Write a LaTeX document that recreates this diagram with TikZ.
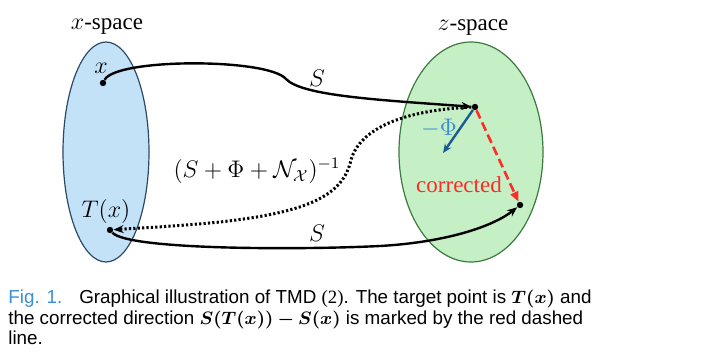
\documentclass[tikz,border=0pt]{standalone}
\usepackage{fontspec}
\usepackage{bm}
\setmainfont{Liberation Serif}
\newfontfamily\capfont{Liberation Sans}
\usetikzlibrary{arrows.meta}
\definecolor{xfill}{HTML}{C3E2F7}
\definecolor{xline}{HTML}{2B4A66}
\definecolor{zfill}{HTML}{C5EFC5}
\definecolor{zline}{HTML}{3D7A3D}
\definecolor{phiarrow}{HTML}{1F5B93}
\definecolor{philabel}{HTML}{3B8CD0}
\definecolor{figblue}{HTML}{3A8FD6}
\definecolor{corrred}{HTML}{FF2A2A}
\begin{document}
\begin{tikzpicture}[x=0.5pt,y=-0.5pt,
  lbl/.style={font=\fontsize{11.5}{13}\selectfont, inner sep=0pt},
  capline/.style={anchor=base west, inner sep=0pt, font=\capfont\fontsize{9.4}{10}\selectfont},
  pt/.style={circle, fill=black, inner sep=0pt, minimum size=3.2pt},
  mapline/.style={line width=1.2pt, -{Stealth[length=5pt,width=4pt]}},
  dotline/.style={line width=1.5pt, dash pattern=on 1.1pt off 1.1pt, -{Stealth[length=5pt,width=4pt]}},
  corrline/.style={corrred, line width=1.3pt, dash pattern=on 4.5pt off 2.2pt, -{Triangle[length=5pt,width=4pt]}},
  philine/.style={phiarrow, line width=1.2pt, -{Stealth[length=4.5pt,width=3.8pt]}}]
\useasboundingbox (0,0) rectangle (720,353);
% ellipses
\draw[xline, fill=xfill, line width=0.6pt] (106,152) ellipse [x radius=21.5pt, y radius=55pt];
\draw[zline, fill=zfill, line width=0.6pt] (471,152) ellipse [x radius=36pt, y radius=55pt];
% titles
\node[lbl] (xsp) at (107,27) {$x$-space};
\node[lbl] (zsp) at (473,28) {$z$-space};
% points
\node[pt] (x) at (103,83) {};
\node[pt] (Tx) at (110,230) {};
\node[pt] (z1) at (475,107) {};
\node[pt] (z2) at (520,205) {};
\coordinate (phiend) at (443,153);
% point labels
\node[lbl] (xl) at (101,68) {$x$};
\node[lbl] (Txl) at (106,212) {$T(x)$};
% top S curve
\draw[mapline] (x) .. controls (116,58) and (268,58) .. (286,79)
  .. controls (302,96) and (380,100) .. (z1);
\node[lbl] (S1) at (317,78) {$S$};
% bottom S curve
\draw[mapline] (Tx) .. controls (128,250) and (300,250) .. (380,246)
  .. controls (450,242) and (495,225) .. (z2);
\node[lbl] (S2) at (317,233) {$S$};
% dotted inverse
\draw[dotline] (z1) .. controls (405,110) and (360,128) .. (351,160)
  .. controls (343,195) and (310,212) .. (220,222)
  .. controls (180,226) and (140,228) .. (Tx);
\node[lbl] (inv) at (257,171) {$(S+\Phi+\mathcal{N}_{\mathcal{X}})^{-1}$};
% phi arrow
\draw[philine] (z1) -- (phiend);
\node[lbl, text=philabel] (phil) at (439,128) {$-\Phi$};
% corrected
\draw[corrline] (z1) -- (z2);
\node[lbl, text=corrred] (corr) at (459,185) {corrected};
% caption
\node[capline] (cap1) at (8,304) {{\color{figblue}Fig. 1.}\hspace{0.9em}Graphical illustration of TMD {\rmfamily(2)}. The target point is $\bm{T(x)}$ and};
\node[capline] (cap2) at (8,324.5) {the corrected direction $\bm{S(T(x))-S(x)}$ is marked by the red dashed};
\node[capline] (cap3) at (8,345) {line.};
\end{tikzpicture}
\end{document}
